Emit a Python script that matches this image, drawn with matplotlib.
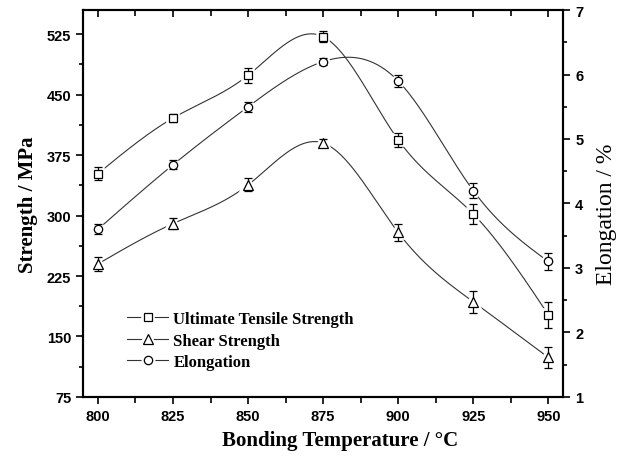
import numpy as np
import matplotlib
matplotlib.use("Agg")
import matplotlib.pyplot as plt
from matplotlib.lines import Line2D
from matplotlib.ticker import MultipleLocator

# data
temps = [800, 825, 850, 875, 900, 925, 950]
uts = [352, 421, 474, 522, 394, 302, 177]
uts_err = [8, 5, 9, 7, 9, 12, 16]
shear = [240, 290, 338, 390, 279, 193, 124]
shear_err = [9, 7, 8, 5, 10, 14, 13]
elong = [3.6, 4.6, 5.5, 6.2, 5.9, 4.2, 3.1]
elong_err = [0.08, 0.07, 0.08, 0.06, 0.09, 0.12, 0.13]


def natural_spline(x, y, n=400):
    """Natural cubic spline through the points (numpy only)."""
    x = np.asarray(x, float)
    y = np.asarray(y, float)
    k = len(x)
    h = np.diff(x)
    A = np.zeros((k, k))
    b = np.zeros(k)
    A[0, 0] = A[-1, -1] = 1
    for i in range(1, k - 1):
        A[i, i - 1] = h[i - 1]
        A[i, i] = 2 * (h[i - 1] + h[i])
        A[i, i + 1] = h[i]
        b[i] = 6 * ((y[i + 1] - y[i]) / h[i] - (y[i] - y[i - 1]) / h[i - 1])
    M = np.linalg.solve(A, b)
    xs = np.linspace(x[0], x[-1], n)
    idx = np.clip(np.searchsorted(x, xs) - 1, 0, k - 2)
    x0, x1 = x[idx], x[idx + 1]
    hh = x1 - x0
    t0, t1 = x1 - xs, xs - x0
    ys = (M[idx] * t0 ** 3 + M[idx + 1] * t1 ** 3) / (6 * hh) \
        + (y[idx] / hh - M[idx] * hh / 6) * t0 \
        + (y[idx + 1] / hh - M[idx + 1] * hh / 6) * t1
    return xs, ys


def draw_series(ax, x, y, err, marker, ms):
    xs, ys = natural_spline(x, y)
    ax.plot(xs, ys, color='#333333', lw=0.8, zorder=2)
    # white halo so the curve stops short of the symbols
    ax.plot(x, y, ls='none', marker=marker, ms=ms, mfc='white', mec='white',
            mew=4, zorder=3)
    ax.errorbar(x, y, yerr=err, fmt='none', ecolor='black', elinewidth=0.9,
                capsize=3, capthick=0.9, zorder=4)
    ax.plot(x, y, ls='none', marker=marker, ms=ms, mfc='white', mec='black',
            mew=0.9, zorder=5)


fig = plt.figure(figsize=(6.19, 4.60), dpi=100)
ax = fig.add_axes([0.134, 0.135, 0.776, 0.841])
ax2 = ax.twinx()

draw_series(ax, temps, uts, uts_err, 's', 5.5)
draw_series(ax, temps, shear, shear_err, '^', 7)
draw_series(ax2, temps, elong, elong_err, 'o', 6)

ax.set_xlim(795, 955)
ax.set_ylim(75, 555)
ax2.set_ylim(1, 7)

ax.xaxis.set_major_locator(MultipleLocator(25))
ax.xaxis.set_minor_locator(MultipleLocator(12.5))
ax.yaxis.set_major_locator(MultipleLocator(75))
ax.yaxis.set_minor_locator(MultipleLocator(37.5))
ax2.yaxis.set_major_locator(MultipleLocator(1))
ax2.yaxis.set_minor_locator(MultipleLocator(0.5))

for a in (ax, ax2):
    for s in a.spines.values():
        s.set_linewidth(1.5)

tick_font = dict(family='Liberation Sans', weight='bold', size=10.5)
ax.tick_params(axis='x', which='both', direction='out', top=True, width=1.2)
ax.tick_params(axis='x', which='major', length=5)
ax.tick_params(axis='x', which='minor', length=4)
ax.tick_params(axis='y', which='major', direction='out', length=5, width=1.2)
ax.tick_params(axis='y', which='minor', direction='out', length=3, width=1.2)
ax2.tick_params(axis='y', which='major', direction='out', length=5, width=1.2)
ax2.tick_params(axis='y', which='minor', direction='out', length=3, width=1.2)
# top ticks point inward
for t in ax.xaxis.get_major_ticks() + ax.xaxis.get_minor_ticks():
    t.tick2line.set_marker(3)

for lab in ax.get_xticklabels() + ax.get_yticklabels() + ax2.get_yticklabels():
    lab.set_fontproperties(tick_font)
    lab.set_fontweight('bold')
    lab.set_fontsize(10.5)

label_font = dict(family='Liberation Serif', weight='bold', size=15)
ax.set_xlabel('Bonding Temperature / °C', fontdict=label_font)
ax.xaxis.set_label_coords(0.535, -0.085)
ax.set_ylabel('Strength / MPa', fontdict=label_font, labelpad=6)
ax2.set_ylabel('Elongation / %', family='Liberation Serif', weight='normal',
               size=17, labelpad=5)
ax2.yaxis.set_label_coords(1.068, 0.475)


def legend_handle(marker, ms):
    line = Line2D([], [], color='#333333', lw=0.8)
    halo = Line2D([], [], ls='none', marker=marker, ms=ms, mfc='white',
                  mec='white', mew=4)
    mark = Line2D([], [], ls='none', marker=marker, ms=ms, mfc='white',
                  mec='black', mew=0.9)
    return (line, halo, mark)


handles = [legend_handle('s', 5.5), legend_handle('^', 7), legend_handle('o', 6)]
labels = ['Ultimate Tensile Strength', 'Shear Strength', 'Elongation']
ax2.legend(handles, labels, loc='upper left', bbox_to_anchor=(0.06, 0.26),
           frameon=False, handlelength=2.5, handletextpad=0.3,
           labelspacing=0.33,
           prop=dict(family='Liberation Serif', weight='bold', size=12))

fig.savefig('out.png', dpi=100)
